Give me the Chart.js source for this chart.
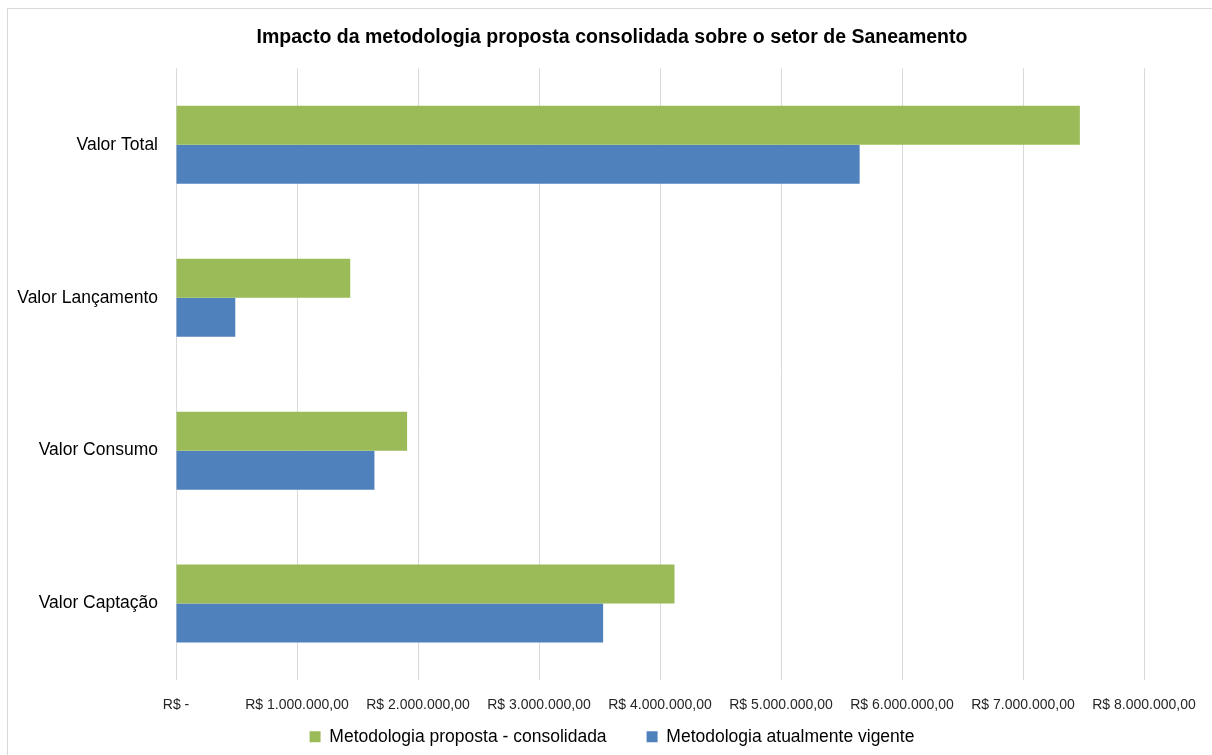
<!DOCTYPE html>
<html>
<head>
<meta charset="utf-8">
<script src="https://cdn.jsdelivr.net/npm/chart.js@4"></script>
<style>
  html, body { margin: 0; padding: 0; background: #fff; }
  #wrap { position: absolute; left: 0; top: 0; width: 1212px; height: 755px; }
  #frame { position: absolute; left: 7px; top: 8px; width: 1220px; height: 760px;
           border-left: 1px solid #d9d9d9; border-top: 1px solid #d9d9d9; }
  canvas { position: absolute; left: 0; top: 0; }
</style>
</head>
<body>
<div id="wrap">
  <div id="frame"></div>
  <canvas id="chart" width="1212" height="755"></canvas>
</div>
<script>
// categories (top to bottom)
const categories = ['Valor Total', 'Valor Lançamento', 'Valor Consumo', 'Valor Captação'];
// series values in R$
const proposta = [7470000, 1440000, 1910000, 4120000];
const vigente = [5650000, 490000, 1640000, 3530000];
const seriesNames = ['Metodologia proposta - consolidada', 'Metodologia atualmente vigente'];
const xTicks = [0, 1000000, 2000000, 3000000, 4000000, 5000000, 6000000, 7000000, 8000000];

const FONT = "'Liberation Sans', Arial, sans-serif";

function brl(v) {
  if (v === 0) return 'R$ -';
  const s = Math.round(v).toString().replace(/\B(?=(\d{3})+(?!\d))/g, '.');
  return 'R$ ' + s + ',00';
}

// the legend needs wide gaps between items but little height,
// so it gets a short box whose top is pulled up after layout
const legendShift = {
  id: 'legendShift',
  afterLayout(chart) {
    chart.legend.top -= 26;
  },
};

const ctx = document.getElementById('chart').getContext('2d');
const chart = new Chart(ctx, {
  type: 'bar',
  data: {
    labels: categories,
    datasets: [{
      label: seriesNames[0],
      data: proposta,
      backgroundColor: '#9bbb59',
      borderWidth: 0,
    }, {
      label: seriesNames[1],
      data: vigente,
      backgroundColor: '#4f81bd',
      borderWidth: 0,
    }],
  },
  plugins: [legendShift],
  options: {
    indexAxis: 'y',
    responsive: false,
    animation: false,
    layout: { padding: { left: 12, right: 0, top: 0, bottom: 0 } },
    scales: {
      x: {
        min: 0,
        max: 8000000,
        afterBuildTicks: (scale) => { scale.ticks = xTicks.map((v) => ({ value: v })); },
        // plot area stops at 8M well before the canvas edge
        afterFit: (scale) => { scale.paddingRight = 68; scale.height = 34; },
        grid: { color: '#d9d9d9', drawTicks: false },
        border: { display: false },
        ticks: {
          padding: 17,
          color: '#262626',
          font: { family: FONT, size: 14 },
          callback: (v) => brl(v),
          maxRotation: 0,
          autoSkip: false,
        },
      },
      y: {
        grid: { display: false, drawTicks: false },
        border: { display: false },
        afterFit: (scale) => { scale.width = 164; },
        ticks: {
          padding: 18,
          color: '#000000',
          font: { family: FONT, size: 17.5 },
        },
      },
    },
    datasets: {
      bar: { categoryPercentage: 0.51, barPercentage: 1.0 },
    },
    plugins: {
      title: {
        display: true,
        text: 'Impacto da metodologia proposta consolidada sobre o setor de Saneamento',
        color: '#000000',
        font: { family: FONT, size: 19.5, weight: 'bold' },
        padding: { top: 26, bottom: 19 },
      },
      legend: {
        position: 'bottom',
        maxHeight: 41,
        labels: {
          boxWidth: 11,
          boxHeight: 11,
          color: '#000000',
          padding: 40,
          font: { family: FONT, size: 17.5 },
        },
      },
      tooltip: { enabled: false },
    },
  },
});
</script>
</body>
</html>
